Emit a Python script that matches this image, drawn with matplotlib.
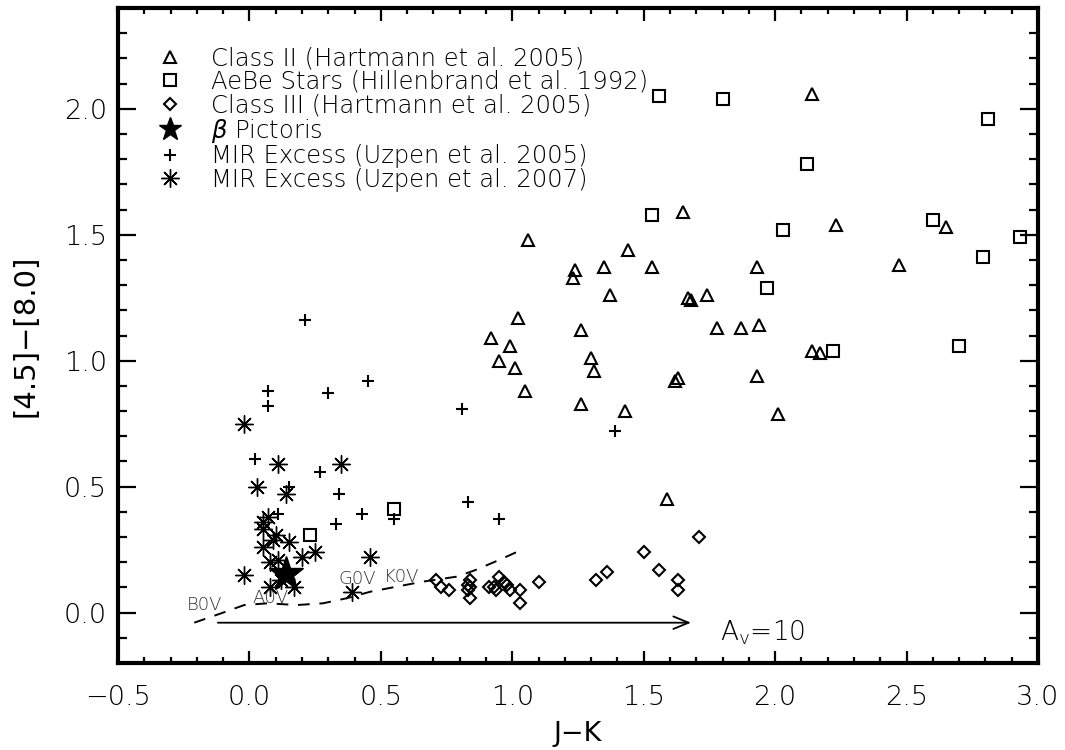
import matplotlib
matplotlib.use('Agg')
import matplotlib.pyplot as plt
from matplotlib.lines import Line2D
from matplotlib.ticker import MultipleLocator

# Class II (Hartmann et al. 2005)
class2_jk = [2.14, 1.65, 2.23, 2.65, 1.44, 1.06, 1.24, 1.23, 1.35, 1.53, 1.93, 2.47,
             1.37, 1.67, 1.68, 1.74, 1.02, 0.92, 0.99, 0.95, 1.01, 1.05, 1.26, 1.30,
             1.31, 1.26, 1.43, 1.62, 1.63, 1.78, 1.87, 1.94, 1.93, 2.01, 2.14, 2.17, 1.59]
class2_c = [2.06, 1.59, 1.54, 1.53, 1.44, 1.48, 1.36, 1.33, 1.37, 1.37, 1.37, 1.38,
            1.26, 1.25, 1.24, 1.26, 1.17, 1.09, 1.06, 1.00, 0.97, 0.88, 1.12, 1.01,
            0.96, 0.83, 0.80, 0.92, 0.93, 1.13, 1.13, 1.14, 0.94, 0.79, 1.04, 1.03, 0.45]

# AeBe stars (Hillenbrand et al. 1992)
aebe_jk = [1.56, 1.80, 2.81, 2.12, 1.53, 2.03, 2.60, 2.93, 2.79, 1.97, 2.22, 2.70, 0.55, 0.23]
aebe_c = [2.05, 2.04, 1.96, 1.78, 1.58, 1.52, 1.56, 1.49, 1.41, 1.29, 1.04, 1.06, 0.41, 0.31]

# Class III (Hartmann et al. 2005)
class3_jk = [0.71, 0.73, 0.76, 0.84, 0.83, 0.84, 0.83, 0.84, 0.91, 0.93, 0.94, 0.95,
             0.97, 0.98, 0.99, 1.03, 1.03, 1.10, 1.32, 1.36, 1.50, 1.56, 1.63, 1.63, 1.71]
class3_c = [0.13, 0.10, 0.09, 0.13, 0.11, 0.10, 0.09, 0.06, 0.10, 0.10, 0.09, 0.14,
            0.12, 0.11, 0.09, 0.09, 0.04, 0.12, 0.13, 0.16, 0.24, 0.17, 0.13, 0.09, 0.30]

# beta Pictoris
bpic_jk = [0.14]
bpic_c = [0.155]

# MIR excess (Uzpen et al. 2005)
uz05_jk = [0.21, 0.07, 0.07, 0.30, 0.45, 0.81, 0.02, 0.27, 0.15, 0.34, 0.11, 0.43,
           0.33, 0.55, 0.83, 0.95, 1.39]
uz05_c = [1.16, 0.88, 0.82, 0.87, 0.92, 0.81, 0.61, 0.56, 0.50, 0.47, 0.39, 0.39,
          0.35, 0.37, 0.44, 0.37, 0.72]

# MIR excess (Uzpen et al. 2007)
uz07_jk = [-0.02, 0.11, 0.35, 0.03, 0.14, 0.07, 0.05, 0.05, 0.10, 0.15, 0.05, 0.09,
           0.25, 0.20, 0.46, 0.08, 0.11, -0.02, 0.08, 0.17, 0.39, 0.12]
uz07_c = [0.75, 0.59, 0.59, 0.50, 0.47, 0.38, 0.36, 0.33, 0.31, 0.28, 0.26, 0.29,
          0.24, 0.22, 0.22, 0.20, 0.21, 0.15, 0.10, 0.10, 0.08, 0.13]

# main-sequence locus (dashed)
locus_jk = [-0.21, -0.10, -0.02, 0.07, 0.18, 0.28, 0.37, 0.46, 0.56, 0.66, 0.79, 0.86, 0.95, 1.02]
locus_c = [-0.04, 0.00, 0.03, 0.037, 0.03, 0.037, 0.057, 0.083, 0.103, 0.123, 0.143, 0.169, 0.209, 0.242]
sp_names = ['B0V', 'A0V', 'G0V', 'K0V']
sp_jk = [-0.17, 0.08, 0.41, 0.58]
sp_c = [0.03, 0.06, 0.135, 0.14]

# reddening vector
av_start = (-0.12, -0.04)
av_end = (1.68, -0.04)

plt.rcParams['font.family'] = 'DejaVu Sans'
plt.rcParams['font.weight'] = 'light'

fig = plt.figure(figsize=(10.65, 7.5), dpi=100)
ax = fig.add_axes([0.1108, 0.116, 0.8638, 0.8733])

mk = dict(ls='none', color='k', mfc='none', mec='k', mew=1.5)
ast = dict(ls='none', color='k', marker=(8, 2, 0), ms=13, mew=1.0)
ax.plot(class2_jk, class2_c, marker='^', ms=9, **mk)
ax.plot(aebe_jk, aebe_c, marker='s', ms=8.5, **mk)
ax.plot(class3_jk, class3_c, marker='D', ms=6, **mk)
ax.plot(uz05_jk, uz05_c, marker='+', ms=9, ls='none', color='k', mew=1.5)
ax.plot(uz07_jk, uz07_c, **ast)
ax.plot(bpic_jk, bpic_c, marker='*', ms=26, ls='none', color='k')

ax.plot(locus_jk, locus_c, color='k', lw=1.4, dashes=(6, 5))
for name, x, y in zip(sp_names, sp_jk, sp_c):
    ax.text(x, y, name, fontsize=13, color='0.2', ha='center', va='center')

ax.annotate('', xy=av_end, xytext=av_start,
            arrowprops=dict(arrowstyle='->,head_length=1.1,head_width=0.45', lw=1.3,
                            color='k', shrinkA=0, shrinkB=0))
ax.text(1.79, -0.08, r'A$_\mathregular{v}$=10', fontsize=19, va='center', ha='left')

ax.set_xlim(-0.5, 3.0)
ax.set_ylim(-0.2, 2.4)
ax.xaxis.set_major_locator(MultipleLocator(0.5))
ax.xaxis.set_minor_locator(MultipleLocator(0.1))
ax.yaxis.set_major_locator(MultipleLocator(0.5))
ax.yaxis.set_minor_locator(MultipleLocator(0.1))
for s in ax.spines.values():
    s.set_linewidth(3)
ax.tick_params(axis='x', which='both', direction='in', top=True, width=1.6, labelsize=19.5, pad=16)
ax.tick_params(axis='x', which='major', length=9)
ax.tick_params(axis='x', which='minor', length=4)
ax.tick_params(axis='y', which='both', direction='in', right=True, width=1.6, labelsize=19.5, pad=8)
ax.tick_params(axis='y', which='major', length=13)
ax.tick_params(axis='y', which='minor', length=6.5)

ax.set_xlabel('J\u2212K', fontsize=19.5)
ax.set_ylabel('[4.5]\u2212[8.0]', fontsize=21)
ax.xaxis.set_label_coords(0.5, -0.088)
ax.yaxis.set_label_coords(-0.085, 0.5)

hs = [Line2D([], [], marker='^', ms=9, **mk),
      Line2D([], [], marker='s', ms=8.5, **mk),
      Line2D([], [], marker='D', ms=6, **mk),
      Line2D([], [], marker='*', ms=17, ls='none', color='k'),
      Line2D([], [], marker='+', ms=9, ls='none', color='k', mew=1.5),
      Line2D([], [], **ast)]
labels = ['Class II (Hartmann et al. 2005)',
          'AeBe Stars (Hillenbrand et al. 1992)',
          'Class III (Hartmann et al. 2005)',
          r'$\beta$ Pictoris',
          'MIR Excess (Uzpen et al. 2005)',
          'MIR Excess (Uzpen et al. 2007)']
ax.legend(hs, labels, loc='upper left', bbox_to_anchor=(0.0435, 0.942), frameon=False,
          fontsize=17.5, handlelength=1.0, handletextpad=1.2, labelspacing=-0.02,
          borderpad=0, borderaxespad=0)

fig.savefig('out.png', dpi=100)
